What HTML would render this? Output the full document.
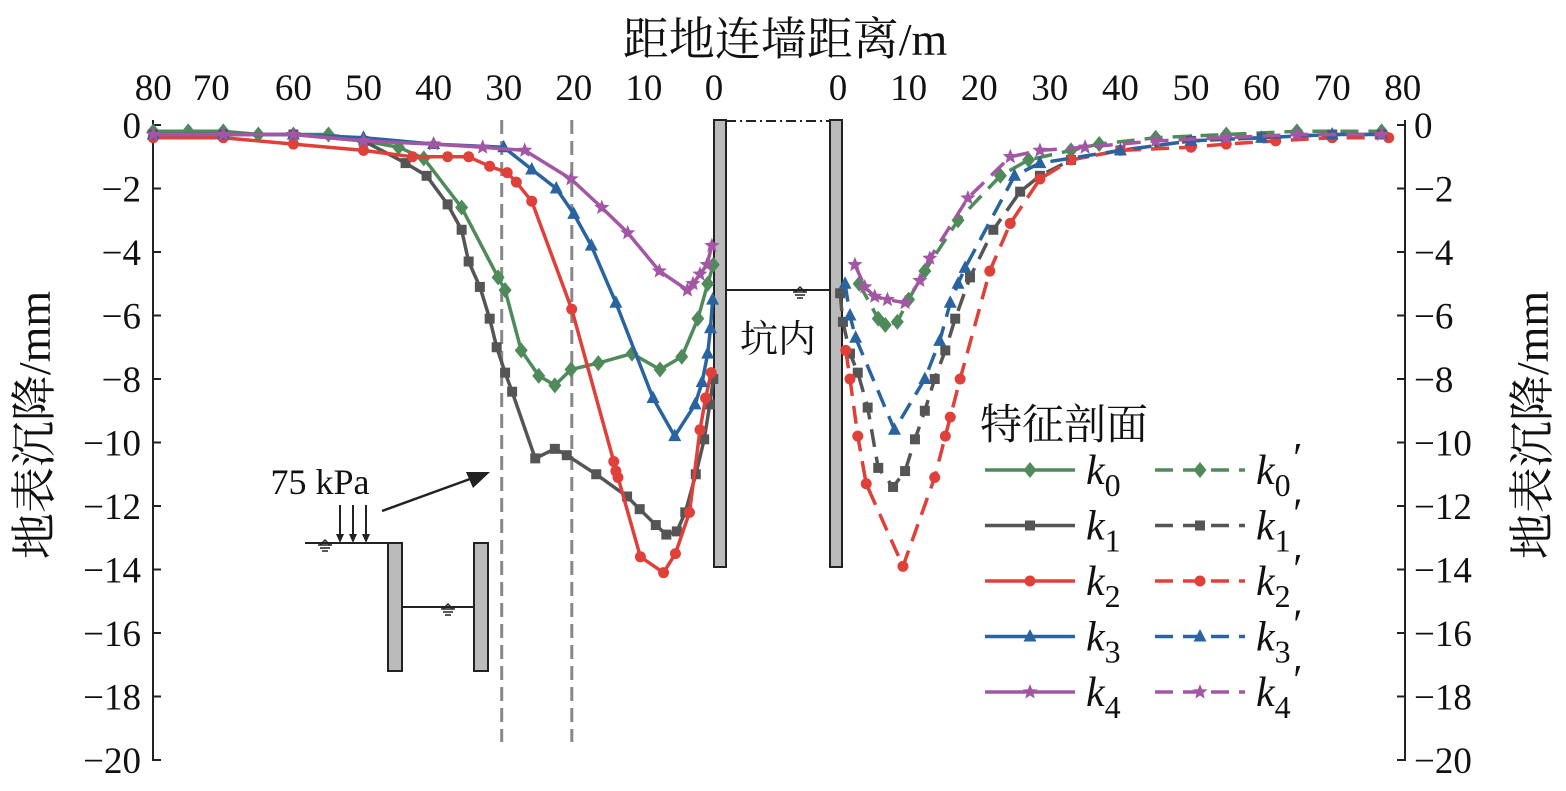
<!DOCTYPE html>
<html><head><meta charset="utf-8">
<style>
html,body{margin:0;padding:0;background:#fff;}
svg{display:block;font-family:"Liberation Serif","Noto Serif CJK SC",serif;}
</style></head>
<body>
<svg id="chart" width="1566" height="791" viewBox="0 0 1566 791" xmlns="http://www.w3.org/2000/svg">
<g id="static"></g>
<g id="marks"></g>
</svg>
<script>
// ---- data ----
const yTicks = [0,-2,-4,-6,-8,-10,-12,-14,-16,-18,-20];
const yTickLabels = ["0","\u22122","\u22124","\u22126","\u22128","\u221210","\u221212","\u221214","\u221216","\u221218","\u221220"];
const xTicksLeft = [80,70,60,50,40,30,20,10,0];
const xTicksRight = [0,10,20,30,40,50,60,70,80];
const seriesNames = ["k0","k1","k2","k3","k4"];
const k0d=[80,75,70,65,60,55,50,45,41.4,36,30.8,29.8,27.5,25,22.7,20.4,16.5,11.7,7.7,4.6,2.3,0.9,0.1];
const k0v=[-0.2,-0.2,-0.2,-0.3,-0.3,-0.3,-0.5,-0.7,-1.05,-2.6,-4.8,-5.2,-7.1,-7.9,-8.2,-7.7,-7.5,-7.2,-7.7,-7.3,-6.1,-5.0,-4.4];
const k1d=[80,70,60,50,44,41,38,36,35,33.4,32,31,29.8,28.8,25.5,22.7,21,16.8,12.4,10.6,8.3,6.8,5.3,4.1,2.6,1.4,0.6,0.1];
const k1v=[-0.3,-0.3,-0.3,-0.5,-1.2,-1.6,-2.5,-3.3,-4.3,-5.1,-6.1,-7.0,-7.8,-8.4,-10.5,-10.2,-10.4,-11,-11.7,-12.1,-12.6,-12.9,-12.8,-12.2,-11,-9.9,-8.8,-8.0];
const k2d=[80,70,60,50,43,38,35,32,29.5,28.2,26,20.3,14.3,14,13.7,10.5,7.2,5.5,3.5,2,1.2,0.4];
const k2v=[-0.4,-0.4,-0.6,-0.8,-1.0,-1.0,-1.0,-1.3,-1.5,-1.8,-2.4,-5.8,-10.6,-10.9,-11.1,-13.6,-14.1,-13.5,-12.2,-9.6,-8.6,-7.8];
const k3d=[80,70,60,50,40,30,26,22.5,20,17.5,14,8.7,5.6,2.7,1.7,0.9,0.5,0.2];
const k3v=[-0.3,-0.3,-0.3,-0.4,-0.6,-0.7,-1.4,-2.0,-2.8,-3.8,-5.6,-8.6,-9.8,-8.8,-8.1,-7.2,-6.4,-5.5];
const k4d=[80,70,60,50,40,33,27,20.4,16,12.3,7.8,3.8,3,2,1,0.3];
const k4v=[-0.3,-0.3,-0.3,-0.5,-0.6,-0.7,-0.8,-1.7,-2.6,-3.4,-4.6,-5.2,-5.0,-4.7,-4.4,-3.8];
const k0pd=[3,5.7,6.7,8.4,10,12.3,17,23,27,33,37,45,55,65,77];
const k0pv=[-5.0,-6.1,-6.3,-6.2,-5.5,-4.6,-3.0,-1.6,-1.1,-0.8,-0.6,-0.4,-0.3,-0.2,-0.2];
const k1pd=[0.3,0.7,1.7,2.8,4.2,5.7,7.8,9.5,10.9,12.3,13.7,15.2,16.6,18.7,22,25.8,28.6,33,40,50,60,70,77];
const k1pv=[-5.3,-6.2,-7.2,-7.8,-8.9,-10.8,-11.4,-10.9,-9.9,-9.0,-8.0,-7.1,-6.1,-4.8,-3.3,-2.1,-1.6,-1.1,-0.8,-0.5,-0.4,-0.3,-0.3];
const k2pd=[1.1,1.7,2.8,4,9.2,13.7,15.2,15.9,17.3,21.5,24.4,28.6,33,40,50,55,62,70,78];
const k2pv=[-7.1,-8.0,-9.8,-11.3,-13.9,-11.1,-9.8,-9.2,-8.0,-4.6,-3.1,-1.7,-1.1,-0.8,-0.7,-0.6,-0.5,-0.4,-0.4];
const k3pd=[1,1.7,2.5,8,12.3,14.4,15.9,17,18,25,28.6,40,50,60,70,77];
const k3pv=[-5.0,-6.0,-6.7,-9.6,-8.0,-6.8,-5.6,-5.0,-4.5,-1.6,-1.2,-0.8,-0.5,-0.4,-0.3,-0.3];
const k4pd=[2.4,3.8,5.2,7,9.5,11.6,13,18.4,24.4,28.6,35,45,55,65,77];
const k4pv=[-4.4,-5.1,-5.4,-5.5,-5.6,-4.9,-4.2,-2.3,-1.0,-0.8,-0.7,-0.5,-0.4,-0.3,-0.3];

// ---- axes ----
const Y0=125, YS=31.75;
function yS(v){return Y0 - v*YS;}
function xL(d){return 714 - d*7.01;}
function xR(d){return 838 + d*7.06;}

const NS="http://www.w3.org/2000/svg";
const st=document.getElementById('static'), mk=document.getElementById('marks');
function el(tag,attrs,parent,text){const e=document.createElementNS(NS,tag);for(const k in attrs)e.setAttribute(k,attrs[k]);if(text!==undefined)e.textContent=text;(parent||st).appendChild(e);return e;}

let e;
e=el('line',{x1:153,y1:120,x2:153,y2:761,stroke:'#222','stroke-width':2});


e=el('line',{x1:1405,y1:120,x2:1405,y2:761,stroke:'#222','stroke-width':2});


yTicks.forEach((v,i)=>{
  el('line',{x1:153,y1:yS(v),x2:161,y2:yS(v),stroke:'#222','stroke-width':2});
  el('line',{x1:1397,y1:yS(v),x2:1405,y2:yS(v),stroke:'#222','stroke-width':2});
  let t=el('text',{x:141,y:yS(v)+13,'text-anchor':'end','font-size':37,fill:'#111'},st,yTickLabels[i]);
  
  
  t=el('text',{x:1414,y:yS(v)+13,'text-anchor':'start','font-size':37,fill:'#111'},st,yTickLabels[i]);
  
  
});
xTicksLeft.forEach(d=>{
  let x=xL(d); if(d===70) x-=12;
  const t=el('text',{x:x,y:100,'text-anchor':'middle','font-size':37,fill:'#111'},st,String(d));
  
  
});
xTicksRight.forEach(d=>{
  const t=el('text',{x:xR(d),y:100,'text-anchor':'middle','font-size':37,fill:'#111'},st,String(d));
  
  
});
e=el('text',{x:785,y:55,'text-anchor':'middle','font-size':46,fill:'#111'},st,'距地连墙距离/m');


e=el('text',{x:0,y:0,'text-anchor':'middle','font-size':46,fill:'#111',transform:'translate(50,425) rotate(-90)'},st,'地表沉降/mm');


e=el('text',{x:0,y:0,'text-anchor':'middle','font-size':46,fill:'#111',transform:'translate(1548,425) rotate(-90)'},st,'地表沉降/mm');



e=el('rect',{x:714,y:120,width:12,height:447,fill:'#bbb',stroke:'#222','stroke-width':2});


e=el('rect',{x:830,y:120,width:12,height:447,fill:'#bbb',stroke:'#222','stroke-width':2});


el('line',{x1:726,y1:121,x2:830,y2:121,stroke:'#222','stroke-width':2,'stroke-dasharray':'10,4,2,4'});
e=el('line',{x1:726,y1:290,x2:830,y2:290,stroke:'#222','stroke-width':2});


function groundSym(x,y){el('path',{d:`M${x-7} ${y+2}L${x+7} ${y+2}M${x-5} ${y+5}L${x+5} ${y+5}M${x-3} ${y+8}L${x+3} ${y+8}M${x-5} ${y+2}L${x} ${y-3}L${x+5} ${y+2}`,stroke:'#222','stroke-width':1.5,fill:'none'});}
groundSym(800,290);
e=el('text',{x:778,y:352,'text-anchor':'middle','font-size':38,fill:'#111'},st,'坑内');



[30,20].forEach(d=>{
  const l=el('line',{x1:xL(d)-2,y1:120,x2:xL(d)-2,y2:742,stroke:'#888','stroke-width':3,'stroke-dasharray':'14,7'});
  
  
});

const ins=el('g',{});


el('line',{x1:305,y1:543,x2:388,y2:543,stroke:'#222','stroke-width':2},ins);
el('rect',{x:388,y:543,width:14,height:128,fill:'#bbb',stroke:'#222','stroke-width':2},ins);
el('rect',{x:474,y:543,width:14,height:128,fill:'#bbb',stroke:'#222','stroke-width':2},ins);
el('line',{x1:402,y1:607,x2:474,y2:607,stroke:'#222','stroke-width':2},ins);
groundSym(325,543); groundSym(448,607);
[340,353,366].forEach(x=>{el('line',{x1:x,y1:505,x2:x,y2:536,stroke:'#222','stroke-width':2},ins);el('path',{d:`M${x-4} ${534}L${x+4} 534L${x} 543Z`,fill:'#222'},ins);});
el('text',{x:320,y:494,'text-anchor':'middle','font-size':36,fill:'#111'},ins,'75 kPa');
el('line',{x1:382,y1:511,x2:470,y2:479,stroke:'#222','stroke-width':2.5},ins);
el('path',{d:'M490 472 L466 472 L473 488 Z',fill:'#222'},ins);

const colors=['#4f8a5b','#555555','#e0403a','#2a64a0','#a256a3'];
const markers=['diamond','square','circle','triangle','star'];
function marker(type,x,y,c,g){
  if(type==='diamond') el('path',{d:`M${x} ${y-8}L${x+6.5} ${y}L${x} ${y+8}L${x-6.5} ${y}Z`,fill:c},g);
  else if(type==='square') el('rect',{x:x-5,y:y-5,width:10,height:10,fill:c},g);
  else if(type==='circle') el('circle',{cx:x,cy:y,r:5.5,fill:c},g);
  else if(type==='triangle') el('path',{d:`M${x} ${y-7.5}L${x+6.5} ${y+5}L${x-6.5} ${y+5}Z`,fill:c},g);
  else { let p=''; for(let i=0;i<10;i++){const r=i%2?3.5:8,a=-Math.PI/2+i*Math.PI/5;p+=(i?'L':'M')+(x+r*Math.cos(a)).toFixed(1)+' '+(y+r*Math.sin(a)).toFixed(1);} el('path',{d:p+'Z',fill:c},g);}
}
const leftD=[k0d,k1d,k2d,k3d,k4d], leftV=[k0v,k1v,k2v,k3v,k4v];
const rightD=[k0pd,k1pd,k2pd,k3pd,k4pd], rightV=[k0pv,k1pv,k2pv,k3pv,k4pv];
function drawSeries(ds,vs,xf,i,dashed,name){
  const g=el('g',{},mk);
  
  
  const pts=ds.map((d,j)=>xf(d).toFixed(1)+','+yS(vs[j]).toFixed(1)).join(' ');
  const a={points:pts,fill:'none',stroke:colors[i],'stroke-width':3.5,'stroke-linejoin':'round'};
  if(dashed) a['stroke-dasharray']='18,10';
  el('polyline',a,g);
  ds.forEach((d,j)=>marker(markers[i],xf(d),yS(vs[j]),colors[i],g));
}
[0,1,2,3,4].forEach(i=>drawSeries(leftD[i],leftV[i],xL,i,false,'series-'+seriesNames[i]));
[0,1,2,3,4].forEach(i=>drawSeries(rightD[i],rightV[i],xR,i,true,'series-'+seriesNames[i]+'-prime'));

const lg=el('g',{});


el('text',{x:980,y:439,'font-size':42,fill:'#111'},lg,'特征剖面');
[0,1,2,3,4].forEach(i=>{
  const y=470+i*55.5;
  [[985,1075,1086,false,''],[1155,1245,1256,true,'′']].forEach(c=>{
    const ge=el('g',{},lg);
    
    
    const a={x1:c[0],y1:y,x2:c[1],y2:y,stroke:colors[i],'stroke-width':3.5};
    if(c[3]) a['stroke-dasharray']='18,10';
    el('line',a,ge);
    marker(markers[i],(c[0]+c[1])/2,y,colors[i],ge);
    const t=el('text',{x:c[2],y:y+14,'font-size':42,'font-style':'italic',fill:'#111'},ge);
    t.appendChild(document.createTextNode('k'));
    const s=document.createElementNS(NS,'tspan');s.setAttribute('dy','12');s.setAttribute('font-size','32');s.setAttribute('font-style','normal');s.textContent=String(i);t.appendChild(s);
    if(c[4]){const p=document.createElementNS(NS,'tspan');p.setAttribute('dy','-24');p.textContent=c[4];t.appendChild(p);}
  });
});
</script>
</body></html>
